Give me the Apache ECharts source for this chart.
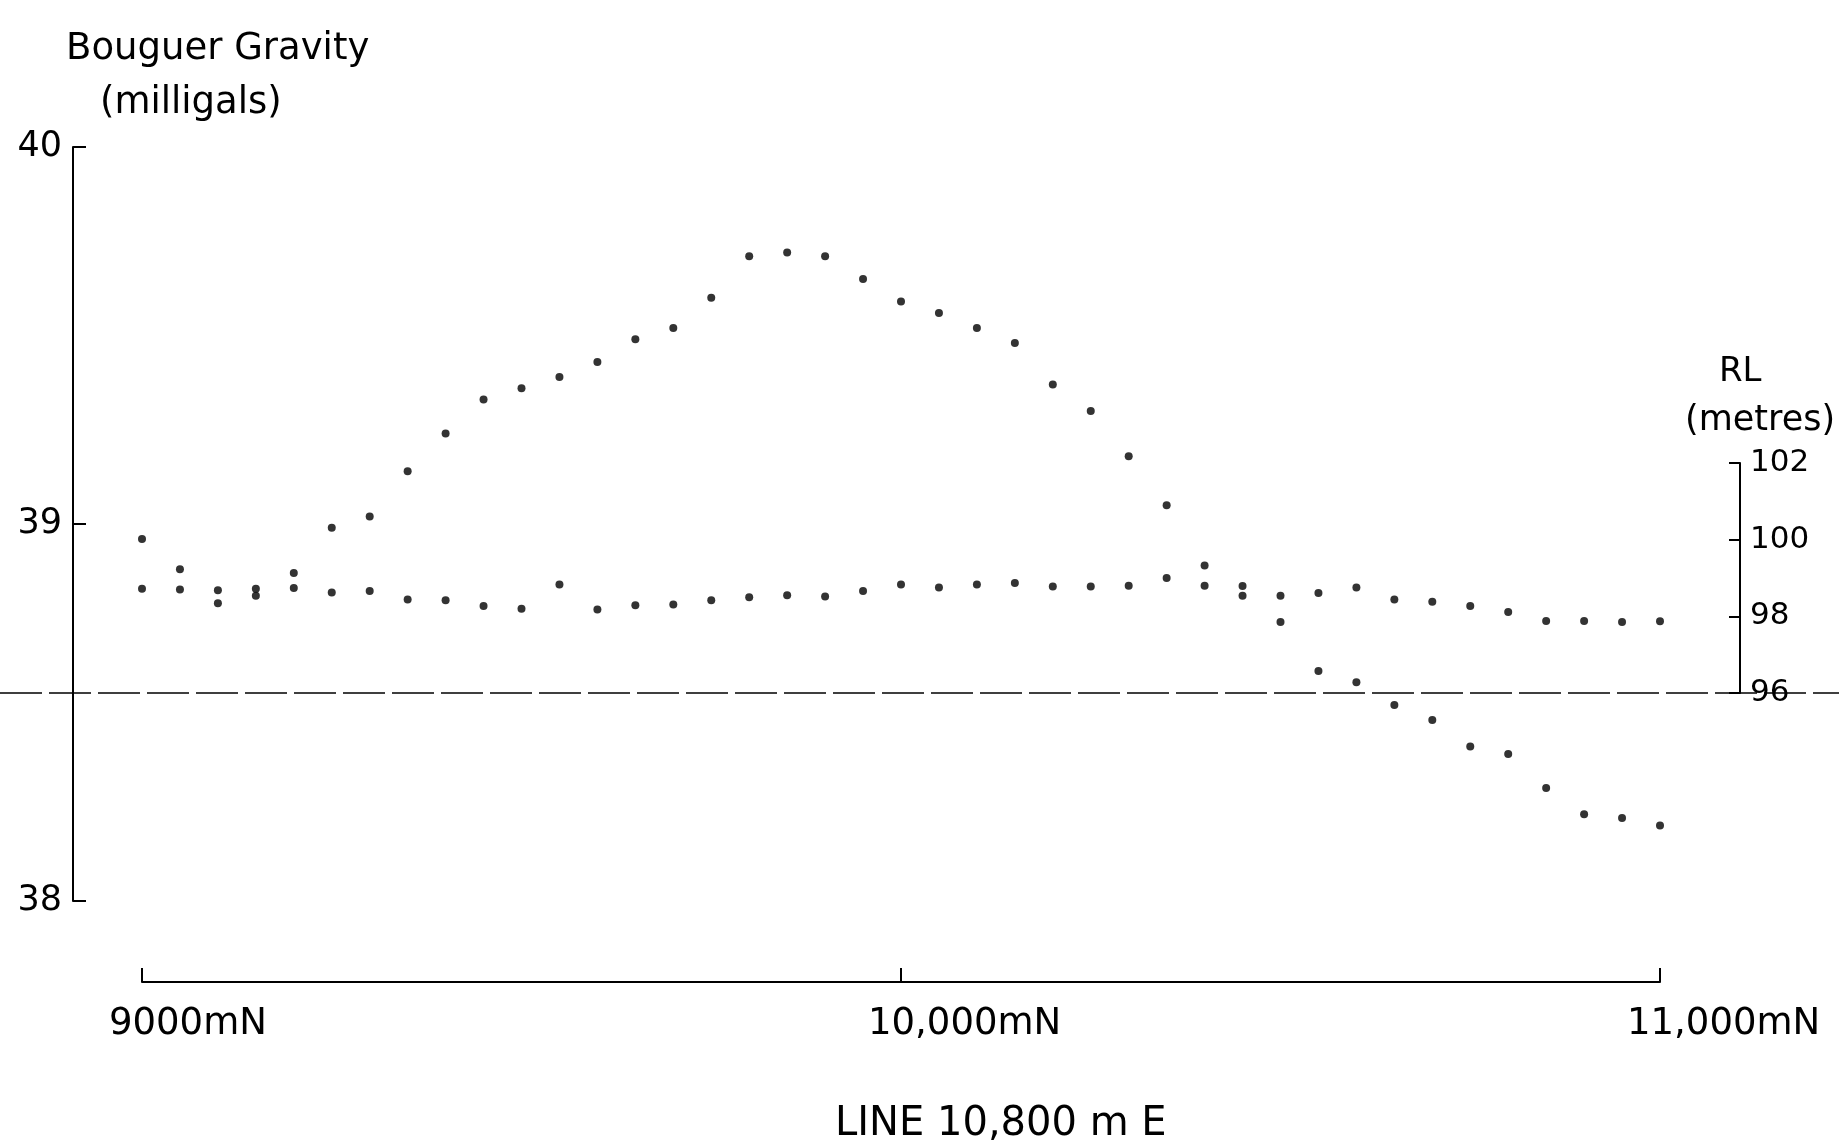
<!DOCTYPE html>
<html lang="en">
<head>
    <meta charset="UTF-8">
    <title>Line 10,800 mE</title>
    <style>
        body { margin: 0; background: #fff; }
    </style>
</head>
<body>
    <div id="echartsDiv" style="width: 1839px;height:1148px;"></div>
</body>
<script type="text/javascript" src="https://cdn.jsdelivr.net/npm/echarts@6/dist/echarts.min.js"></script>
<script type="text/javascript">
    // stations along the line (mN)
    var stations = [9000, 9050, 9100, 9150, 9200, 9250, 9300, 9350, 9400, 9450,
        9500, 9550, 9600, 9650, 9700, 9750, 9800, 9850, 9900, 9950,
        10000, 10050, 10100, 10150, 10200, 10250, 10300, 10350, 10400, 10450,
        10500, 10550, 10600, 10650, 10700, 10750, 10800, 10850, 10900, 10950, 11000];

    // Bouguer gravity (milligals)
    var gravity = [38.96, 38.88, 38.79, 38.81, 38.87, 38.99, 39.02, 39.14, 39.24, 39.33,
        39.36, 39.39, 39.43, 39.49, 39.52, 39.60, 39.71, 39.72, 39.71, 39.65,
        39.59, 39.56, 39.52, 39.48, 39.37, 39.30, 39.18, 39.05, 38.89, 38.81,
        38.74, 38.61, 38.58, 38.52, 38.48, 38.41, 38.39, 38.30, 38.23, 38.22, 38.20];

    // reduced level (metres)
    var rl = [98.72, 98.70, 98.68, 98.72, 98.74, 98.62, 98.66, 98.44, 98.42, 98.27,
        98.20, 98.83, 98.18, 98.29, 98.31, 98.42, 98.50, 98.55, 98.52, 98.66,
        98.83, 98.75, 98.83, 98.87, 98.78, 98.78, 98.80, 99.00, 98.80, 98.79,
        98.54, 98.61, 98.75, 98.44, 98.38, 98.27, 98.11, 97.88, 97.88, 97.85, 97.87];

    var xTicks = [9000, 10000, 11000];
    var xTickLabels = ['9000mN', '10,000mN', '11,000mN'];
    var datumRL = 96;

    var font = 'DejaVu Sans';
    var ink = '#000';

    var myChart = echarts.init(document.getElementById('echartsDiv'));

    var gravityData = stations.map(function (s, i) { return [s, gravity[i]]; });
    var rlData = stations.map(function (s, i) { return [s, rl[i]]; });

    var option = {
        backgroundColor: '#fff',
        animation: false,
        textStyle: { fontFamily: font, color: ink },
        title: [
            { text: 'Bouguer Gravity', left: 66, top: 31, padding: 0,
              textStyle: { fontFamily: font, fontSize: 37, fontWeight: 'normal', color: ink } },
            { text: '(milligals)', left: 100, top: 85, padding: 0,
              textStyle: { fontFamily: font, fontSize: 37, fontWeight: 'normal', color: ink } },
            { text: 'RL', left: 1719, top: 355, padding: 0,
              textStyle: { fontFamily: font, fontSize: 34, fontWeight: 'normal', color: ink } },
            { text: '(metres)', left: 1685, top: 403, padding: 0,
              textStyle: { fontFamily: font, fontSize: 35, fontWeight: 'normal', color: ink } },
            { text: 'LINE 10,800 m E', left: 835, top: 1105, padding: 0,
              textStyle: { fontFamily: font, fontSize: 40, fontWeight: 'normal', color: ink } }
        ],
        grid: [
            { left: 142, top: 147, width: 1518, height: 754 },
            { left: 142, top: 463, width: 1518, height: 230 }
        ],
        xAxis: [
            {
                gridIndex: 0, type: 'value', min: 9000, max: 11000, interval: 1000,
                position: 'bottom', offset: 81,
                axisLine: { lineStyle: { color: ink, width: 2 } },
                axisTick: { inside: true, length: 14, lineStyle: { color: ink, width: 2 } },
                splitLine: { show: false },
                axisLabel: {
                    color: ink, fontFamily: font, fontSize: 37, margin: 24,
                    align: 'left', padding: [0, 0, 0, -33],
                    formatter: function (v) {
                        var i = xTicks.indexOf(v);
                        return i >= 0 ? xTickLabels[i] : '';
                    }
                }
            },
            {
                gridIndex: 1, type: 'value', min: 9000, max: 11000, show: false
            }
        ],
        yAxis: [
            {
                gridIndex: 0, type: 'value', min: 38, max: 40, interval: 1,
                position: 'left', offset: 69,
                axisLine: { show: true, lineStyle: { color: ink, width: 2 } },
                axisTick: { show: true, inside: true, length: 13, lineStyle: { color: ink, width: 2 } },
                splitLine: { show: false },
                axisLabel: { color: ink, fontFamily: font, fontSize: 35, margin: 11 }
            },
            {
                gridIndex: 1, type: 'value', min: 96, max: 102, interval: 2,
                position: 'right', offset: 80,
                axisLine: { show: true, lineStyle: { color: ink, width: 2 } },
                axisTick: { show: true, inside: true, length: 11, lineStyle: { color: ink, width: 2 } },
                splitLine: { show: false },
                axisLabel: { color: ink, fontFamily: font, fontSize: 31, margin: 10 }
            }
        ],
        series: [
            {
                name: 'Bouguer Gravity', type: 'scatter',
                xAxisIndex: 0, yAxisIndex: 0,
                data: gravityData, symbol: 'circle', symbolSize: 8,
                itemStyle: { color: ink }
            },
            {
                name: 'RL', type: 'scatter',
                xAxisIndex: 1, yAxisIndex: 1,
                data: rlData, symbol: 'circle', symbolSize: 8,
                itemStyle: { color: ink }
            }
        ]
    };

    myChart.setOption(option);

    // datum line at RL 96 m, running across the whole sheet
    var datumY = myChart.convertToPixel({ xAxisIndex: 1, yAxisIndex: 1 }, [9000, datumRL])[1];
    myChart.setOption({
        graphic: [{
            type: 'line', z: 0,
            shape: { x1: 0, y1: datumY, x2: 1839, y2: datumY },
            style: { stroke: ink, lineWidth: 1.5, lineDash: [42, 7] }
        }]
    });
</script>
</html>
